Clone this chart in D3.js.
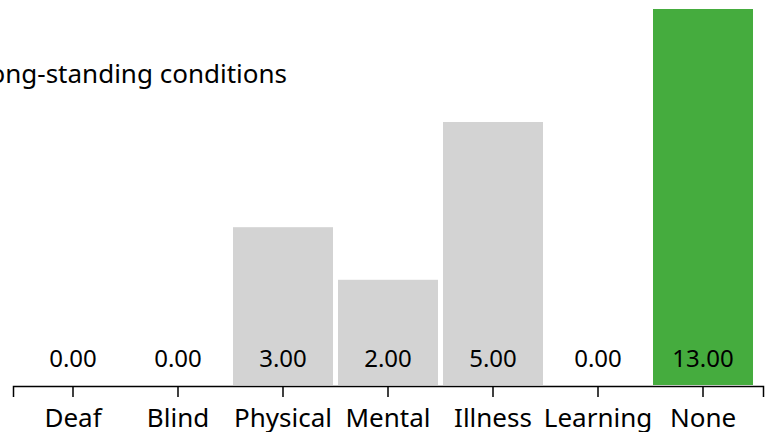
<!DOCTYPE html>
<html><head><meta charset="utf-8">
<script src="https://cdn.jsdelivr.net/npm/d3@7"></script>
<style>body{margin:0;background:#fff}svg{display:block;font-family:"Noto Sans",sans-serif}</style>
</head><body><svg id="c" width="774" height="432"></svg>
<script>
const categories = ["Deaf","Blind","Physical","Mental","Illness","Learning","None"];
const values = [0,0,3,2,5,0,13];
const highlight = ["None"];
const title = "Long-standing conditions";

const svg = d3.select("#c");
const baseY = 386;
const x = d3.scaleBand().domain(categories).range([13, 763]).paddingInner(5/105).paddingOuter(0.0952);
const y = d3.scaleLinear().domain([0, 5]).range([baseY - 1, baseY - 264]);

svg.append("defs").append("clipPath").attr("id","clip")
  .append("rect").attr("x",0).attr("y",9).attr("width",774).attr("height",432);

svg.append("g").attr("clip-path","url(#clip)")
  .selectAll("rect").data(categories).join("rect")
  .attr("x", d => x(d))
  .attr("width", x.bandwidth())
  .attr("y", (d,i) => y(values[i]))
  .attr("height", (d,i) => y(0) - y(values[i]))
  .attr("fill", d => highlight.includes(d) ? "#45ac3e" : "#d3d3d3");

svg.append("g").selectAll("text").data(categories).join("text")
  .attr("x", d => x(d) + x.bandwidth()/2)
  .attr("y", 367)
  .attr("text-anchor","middle")
  .attr("font-size", 24)
  .attr("fill","#000")
  .text((d,i) => values[i].toFixed(2));

const ax = svg.append("g").attr("transform", `translate(0,${baseY})`)
  .call(d3.axisBottom(x).tickSize(11).tickSizeOuter(11));
ax.select(".domain").attr("stroke","#000").attr("stroke-width",1.5);
ax.selectAll(".tick line").attr("stroke","#000").attr("stroke-width",1.5);
ax.selectAll(".tick text").attr("font-size", 26).attr("fill","#000")
  .attr("font-family","Noto Sans, sans-serif").attr("y", 41).attr("dy", 0);

svg.append("text").attr("x", 287).attr("y", 83).attr("text-anchor","end")
  .attr("font-size", 26).attr("fill","#000").text(title);
</script></body></html>
